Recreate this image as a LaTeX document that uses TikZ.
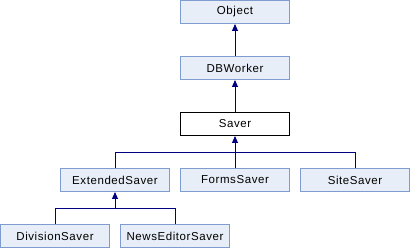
\documentclass[tikz,border=0pt]{standalone}
\usepackage{fontspec}
\setmainfont{Liberation Sans}
\newfontfamily\classfont[LetterSpace=5]{Liberation Sans}
\usetikzlibrary{arrows.meta}
\definecolor{boxfill}{HTML}{E8EEF7}
\definecolor{boxline}{HTML}{7F9CD0}
\definecolor{edgeblue}{HTML}{000080}
\tikzset{
  classbox/.style={draw=boxline, fill=boxfill, line width=1pt, minimum width=109pt,
    minimum height=23pt, inner sep=0pt, font=\classfont\fontsize{11.5}{13}\selectfont},
  current/.style={classbox, draw=black, fill=white},
  edge/.style={draw=edgeblue, line width=1pt},
  inherit/.style={edge, -{Triangle[length=7pt,width=6pt]}}
}
\begin{document}
\begin{tikzpicture}[x=1pt,y=-1pt]
\useasboundingbox (0,0) rectangle (410,248);
\node[classbox] (object) at (235,12) {Object};
\node[classbox] (dbworker) at (235,68) {DBWorker};
\node[current] (saver) at (235,124) {Saver};
\node[classbox] (extended) at (115,180) {ExtendedSaver};
\node[classbox] (forms) at (235,180) {FormsSaver};
\node[classbox] (site) at (355,180) {SiteSaver};
\node[classbox] (division) at (55,236) {DivisionSaver};
\node[classbox] (newseditor) at (175,236) {NewsEditorSaver};
\coordinate (saverjoin) at (235,152.5);
\coordinate (extjoin) at (115,208.5);
% inheritance edges
\draw[inherit] (dbworker.north) -- (object.south);
\draw[inherit] (saver.north) -- (dbworker.south);
\draw[edge] (extended.north) |- (saverjoin) -| (site.north);
\draw[edge] (forms.north) -- (saverjoin);
\draw[inherit] (saverjoin) -- (saver.south);
\draw[edge] (division.north) |- (extjoin) -| (newseditor.north);
\draw[inherit] (extjoin) -- (extended.south);
\end{tikzpicture}
\end{document}
